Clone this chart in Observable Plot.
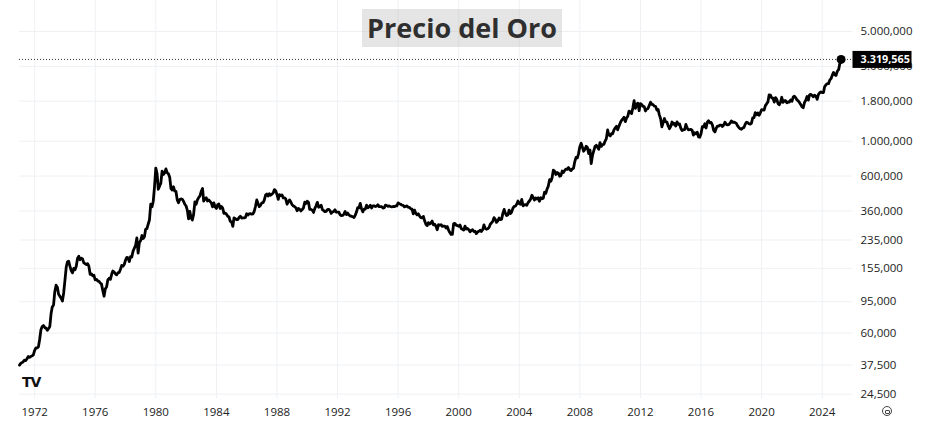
<!DOCTYPE html>
<html>
<head>
<meta charset="utf-8">
<script src="https://cdn.jsdelivr.net/npm/d3@7"></script>
<script src="https://cdn.jsdelivr.net/npm/@observablehq/plot@0.6"></script>
<style>
  body { margin: 0; background: #fff; }
  #wrap { position: relative; width: 936px; height: 435px; font-family: "Open Sans", sans-serif; }
  #title { position: absolute; left: 362px; top: 9px; width: 200px; height: 38px; line-height: 34px;
           background: rgba(190,190,190,0.4); color: #2f2f2f; font: 700 27px "Open Sans", sans-serif;
           text-align: center; white-space: nowrap; }
  #logo { position: absolute; left: 22px; top: 374px; font: 900 14px "DejaVu Sans", sans-serif;
          letter-spacing: -1px; color: #111; }
  #icon { position: absolute; left: 882px; top: 406px; width: 8px; height: 8px; border: 1.2px solid #444;
          border-radius: 50%; }
  #icon::after { content: ""; position: absolute; left: 2px; top: 3px; width: 3px; height: 1.5px;
          border: 1px solid #444; border-radius: 1px; }
</style>
</head>
<body>
<div id="wrap">
  <div id="chart"></div>
  <div id="title">Precio del Oro</div>
  <div id="logo">TV</div>
  <div id="icon"></div>
</div>
<script>
// Monthly gold price (USD/oz), one array per decade
const gold1970s = [ // 1971-01 .. 1979-12
  37.5, 38.5, 38.9, 39.4, 40.3, 40.1, 41.2, 42.5, 42.0, 42.6, 43.0, 43.6,
  46.5, 48.2, 48.3, 49.0, 54.6, 63.0, 66.0, 67.0, 65.0, 64.5, 62.5, 64.0,
  66.0, 80.0, 88.0, 90.5, 110.0, 121.0, 118.0, 106.0, 103.0, 100.0, 96.0, 108.0,
  130.0, 158.0, 170.0, 172.0, 160.0, 150.0, 145.0, 155.0, 152.0, 160.0, 180.0, 185.0,
  176.0, 180.0, 178.0, 168.0, 166.0, 164.0, 166.0, 160.0, 142.0, 143.0, 139.0, 140.0,
  131.0, 132.0, 129.0, 128.0, 125.0, 123.0, 112.0, 103.0, 115.0, 118.0, 131.0, 134.0,
  132.0, 142.0, 149.0, 147.0, 143.0, 141.0, 145.0, 146.0, 153.0, 162.0, 160.0, 164.0,
  175.0, 182.0, 181.0, 171.0, 184.0, 183.0, 199.0, 208.0, 217.0, 242.0, 194.0, 226.0,
  233.0, 251.0, 240.0, 246.0, 275.0, 278.0, 296.0, 315.0, 397.0, 382.0, 415.0, 512.0
];
const gold1980s = [ // 1980-01 .. 1989-12
  675, 620, 494, 517, 540, 645, 614, 628, 667, 630, 620, 590,
  500, 489, 513, 482, 480, 423, 406, 425, 429, 427, 414, 397,
  387, 362, 320, 357, 325, 315, 342, 411, 397, 423, 438, 448,
  480, 500, 415, 430, 437, 416, 423, 414, 405, 382, 405, 382,
  373, 394, 398, 373, 384, 375, 347, 348, 343, 333, 329, 309,
  306, 287, 325, 321, 317, 317, 327, 333, 324, 325, 325, 327,
  345, 339, 345, 346, 343, 345, 357, 384, 423, 401, 383, 391,
  405, 406, 422, 454, 461, 447, 463, 453, 460, 468, 492, 484,
  458, 426, 457, 450, 455, 436, 436, 428, 397, 412, 423, 410,
  394, 387, 383, 377, 361, 373, 368, 360, 367, 376, 409, 401
];
const gold1990s = [ // 1990-01 .. 1999-12
  415, 407, 368, 368, 364, 352, 372, 388, 408, 380, 384, 391,
  367, 362, 356, 357, 367, 368, 362, 347, 354, 357, 366, 353,
  354, 353, 341, 336, 337, 343, 357, 341, 349, 339, 334, 333,
  330, 327, 337, 354, 377, 376, 402, 372, 355, 370, 370, 392,
  377, 382, 391, 376, 388, 388, 384, 386, 394, 383, 383, 383,
  375, 377, 392, 389, 385, 387, 384, 382, 384, 383, 387, 387,
  405, 400, 397, 392, 391, 382, 385, 387, 379, 379, 371, 369,
  345, 364, 348, 340, 345, 334, 326, 325, 332, 311, 296, 290,
  303, 297, 301, 310, 293, 296, 288, 273, 294, 292, 294, 287,
  288, 288, 280, 286, 272, 262, 255, 255, 299, 300, 292, 290
];
const gold2000s = [ // 2000-01 .. 2009-12
  287, 293, 278, 275, 272, 288, 276, 278, 273, 265, 270, 273,
  266, 267, 258, 264, 267, 271, 266, 273, 293, 279, 275, 277,
  282, 296, 302, 309, 326, 318, 304, 311, 324, 317, 319, 347,
  368, 347, 336, 339, 364, 346, 354, 375, 385, 386, 398, 416,
  400, 397, 426, 388, 393, 395, 391, 407, 416, 429, 453, 438,
  422, 435, 429, 436, 415, 437, 430, 434, 473, 466, 496, 518,
  569, 556, 583, 654, 645, 614, 632, 626, 599, 604, 646, 632,
  652, 665, 662, 680, 660, 650, 666, 673, 742, 789, 783, 834,
  924, 971, 916, 864, 886, 930, 913, 834, 880, 720, 815, 869,
  928, 942, 916, 888, 981, 927, 953, 955, 1002, 1040, 1179, 1096
];
const gold2010s = [ // 2010-01 .. 2019-12
  1081, 1116, 1113, 1180, 1213, 1244, 1181, 1248, 1307, 1357, 1384, 1421,
  1332, 1409, 1439, 1556, 1536, 1500, 1628, 1813, 1620, 1722, 1746, 1565,
  1737, 1711, 1669, 1664, 1559, 1604, 1614, 1692, 1772, 1719, 1711, 1675,
  1663, 1578, 1595, 1472, 1393, 1234, 1312, 1395, 1327, 1323, 1250, 1202,
  1244, 1326, 1284, 1296, 1250, 1327, 1282, 1287, 1210, 1171, 1182, 1184,
  1279, 1213, 1183, 1184, 1190, 1172, 1095, 1133, 1115, 1142, 1065, 1060,
  1117, 1238, 1233, 1291, 1215, 1321, 1351, 1309, 1316, 1272, 1173, 1146,
  1211, 1249, 1249, 1268, 1268, 1242, 1269, 1322, 1280, 1271, 1275, 1303,
  1345, 1318, 1325, 1315, 1299, 1253, 1224, 1201, 1192, 1215, 1222, 1281,
  1321, 1313, 1292, 1284, 1305, 1409, 1414, 1520, 1472, 1513, 1464, 1517
];
const gold2020s = [ // 2020-01 .. 2025-04
  1589, 1585, 1577, 1686, 1730, 1781, 1975, 1968, 1886, 1879, 1776, 1895,
  1847, 1734, 1708, 1769, 1906, 1770, 1814, 1813, 1757, 1783, 1774, 1829,
  1797, 1909, 1937, 1897, 1837, 1807, 1766, 1711, 1661, 1633, 1769, 1824,
  1928, 1827, 1969, 1990, 1962, 1919, 1965, 1940, 1849, 1983, 2036, 2063,
  2040, 2044, 2230, 2286, 2327, 2326, 2447, 2503, 2635, 2744, 2650, 2625,
  2798, 2858, 3124, 3319.565
];
const decadeStarts = [1971, 1980, 1990, 2000, 2010, 2020];
const yearTickLabels = [1972, 1976, 1980, 1984, 1988, 1992, 1996, 2000, 2004, 2008, 2012, 2016, 2020, 2024];
const priceTicks = [24.5, 37.5, 60, 95, 155, 235, 360, 600, 1000, 1800, 3000, 5000];

const series = [gold1970s, gold1980s, gold1990s, gold2000s, gold2010s, gold2020s];
const data = [];
series.forEach((arr, k) => arr.forEach((v, i) =>
  data.push({date: new Date(Date.UTC(decadeStarts[k], i, 1)), price: v})));
const last = data[data.length - 1];
const yearTicks = yearTickLabels.map(y => new Date(Date.UTC(y, 0, 1)));

const es = d3.formatLocale({decimal: ",", thousands: ".", grouping: [3], currency: ["", "€"]});
const fmt = es.format(",.3f");

const grid = "#eef0f3";
const plot = Plot.plot({
  width: 936, height: 435,
  marginLeft: 19, marginRight: 84, marginTop: 0, marginBottom: 37,
  style: {fontFamily: "'Open Sans', sans-serif", fontSize: "11.5px", color: "#222", background: "#fff"},
  x: {type: "utc", domain: [new Date(Date.UTC(1971, 0, 1)), new Date(Date.UTC(2026, 0, 1))], axis: null},
  y: {type: "log", domain: [22.98, 7878], axis: null},
  marks: [
    Plot.gridX(yearTicks, {stroke: grid, strokeOpacity: 1}),
    Plot.gridY(priceTicks, {stroke: grid, strokeOpacity: 1}),
    Plot.axisX(yearTicks, {tickSize: 0, tickPadding: 9, tickFormat: d => String(d.getUTCFullYear()), fill: "#222"}),
    Plot.text(priceTicks, {y: d => d, text: d => fmt(d), frameAnchor: "right", dx: 8,
      textAnchor: "start", fill: "#222"}),
    Plot.ruleY([last.price], {stroke: "#333", strokeDasharray: "1,2", strokeWidth: 1}),
    Plot.line(data, {x: "date", y: "price", stroke: "#000", strokeWidth: 2.8, strokeLinejoin: "round", strokeLinecap: "round"}),
    Plot.dot([last], {x: "date", y: "price", r: 4.5, fill: "#000"}),
    Plot.text([last], {y: "price", frameAnchor: "right", dx: 8, textAnchor: "start",
      text: d => fmt(d.price), fill: "#fff", fontWeight: 700, fontSize: 10.8})
  ]
});
document.getElementById("chart").appendChild(plot);

// dark background box behind the last-price label (inserted at svg root, before the label group)
const py = plot.scale("y").apply(last.price);
const lastLabel = fmt(last.price);
const labelNode = d3.select(plot).selectAll("text").filter(function () {
  return this.textContent === lastLabel;
}).node();
if (labelNode) {
  let grp = labelNode;
  while (grp.parentNode && grp.parentNode !== plot) grp = grp.parentNode;
  d3.select(plot).insert("rect", () => grp)
    .attr("x", 852.5).attr("y", py - 8).attr("width", 59).attr("height", 17)
    .attr("fill", "#000");
}
</script>
</body>
</html>
